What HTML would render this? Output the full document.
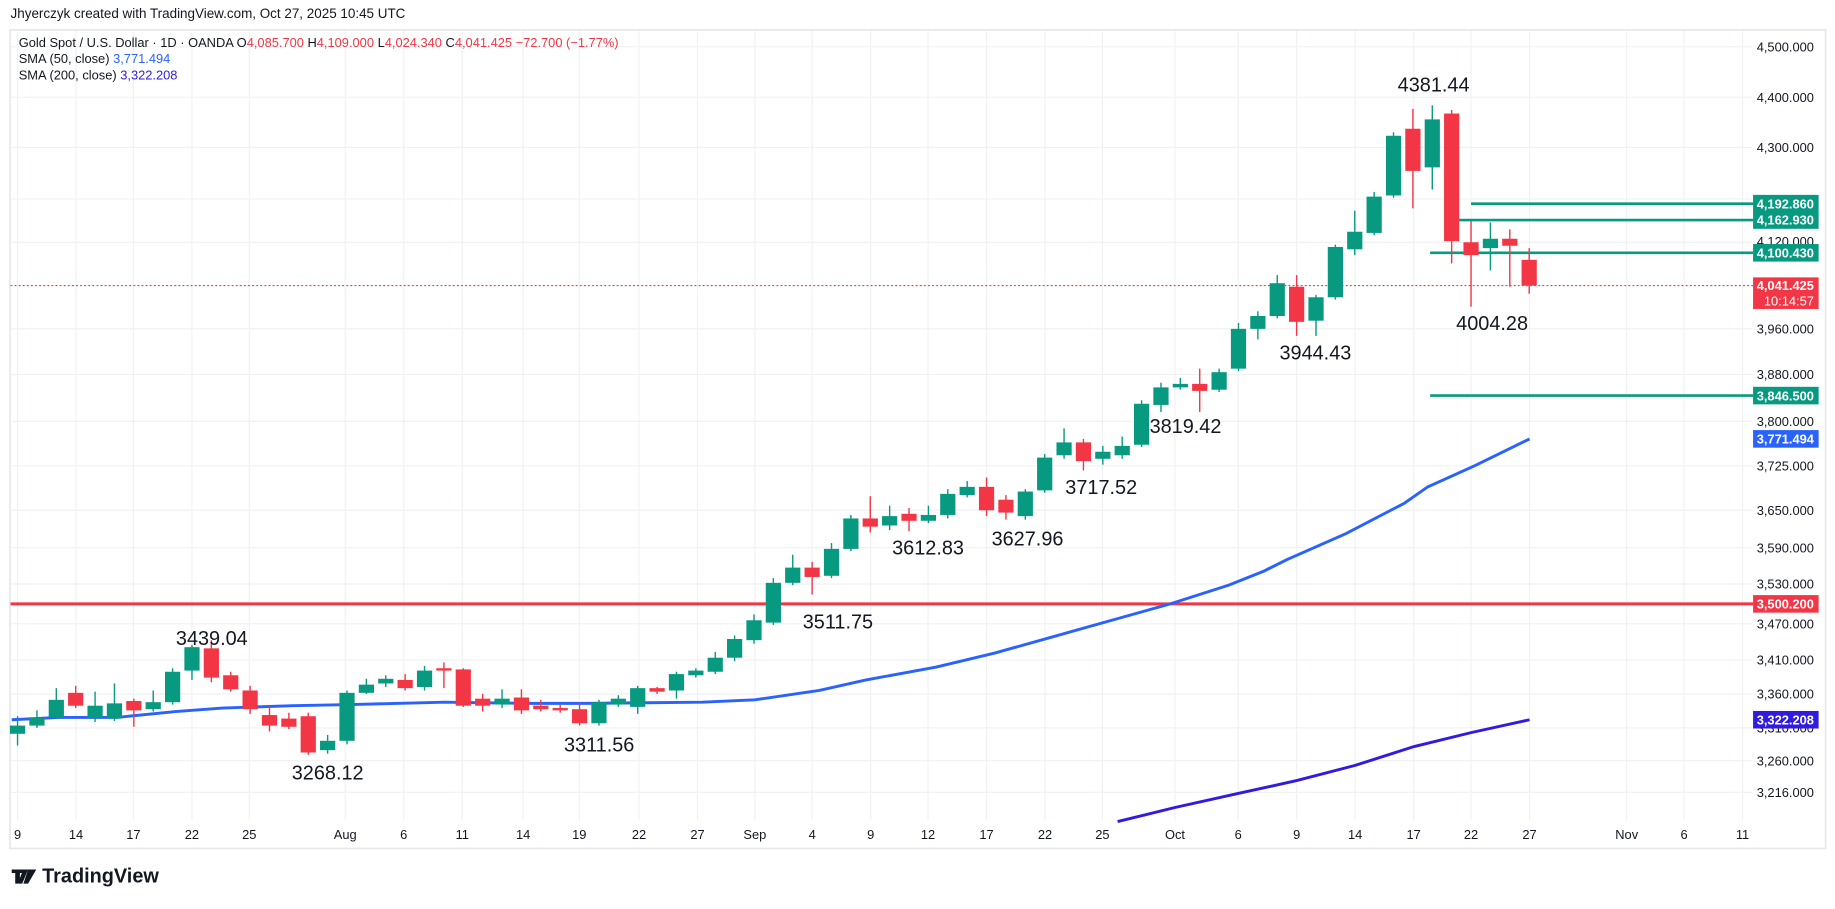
<!DOCTYPE html>
<html><head><meta charset="utf-8"><style>
html,body{margin:0;padding:0;background:#fff;}
svg{display:block;font-family:"Liberation Sans",sans-serif;}
</style></head><body>
<svg id="c" width="1835" height="909" viewBox="0 0 1568 776.7" xmlns="http://www.w3.org/2000/svg">
<rect width="1568" height="776.7" fill="#fff"/>
<text x="9" y="15.5" font-size="11.5" fill="#131722">Jhyerczyk created with TradingView.com, Oct 27, 2025 10:45 UTC</text>
<rect x="8.5" y="25.5" width="1551.5" height="699.5" fill="none" stroke="#e8e8ea" stroke-width="1.5"/>
<g id="grid" stroke="#f0f1f3" stroke-width="1"></g>
<g id="hl"></g>
<g id="cd"></g>
<g font-size="11" fill="#131722">
<text x="16" y="40">Gold Spot / U.S. Dollar · 1D · OANDA  O<tspan fill="#f23645">4,085.700</tspan>  H<tspan fill="#f23645">4,109.000</tspan>  L<tspan fill="#f23645">4,024.340</tspan>  C<tspan fill="#f23645">4,041.425</tspan>  <tspan fill="#f23645">−72.700 (−1.77%)</tspan></text>
<text x="16" y="54">SMA (50, close)  <tspan fill="#2962ff">3,771.494</tspan></text>
<text x="16" y="68">SMA (200, close)  <tspan fill="#311bdf">3,322.208</tspan></text>
</g>
<g font-size="11" fill="#131722" text-anchor="end">
<text x="1550" y="44">4,500.000</text><text x="1550" y="87">4,400.000</text><text x="1550" y="130">4,300.000</text>
<text x="1550" y="210">4,120.000</text><text x="1550" y="285">3,960.000</text><text x="1550" y="324">3,880.000</text>
<text x="1550" y="364">3,800.000</text><text x="1550" y="402">3,725.000</text><text x="1550" y="440">3,650.000</text>
<text x="1550" y="472">3,590.000</text><text x="1550" y="503">3,530.000</text><text x="1550" y="537">3,470.000</text>
<text x="1550" y="568">3,410.000</text><text x="1550" y="597">3,360.000</text><text x="1550" y="626">3,310.000</text>
<text x="1550" y="654">3,260.000</text><text x="1550" y="681">3,216.000</text>
</g>
<g font-size="11" fill="#131722" text-anchor="middle">
<text x="15" y="717">9</text><text x="65" y="717">14</text><text x="114" y="717">17</text><text x="164" y="717">22</text><text x="213" y="717">25</text><text x="295" y="717">Aug</text><text x="345" y="717">6</text><text x="395" y="717">11</text><text x="447" y="717">14</text><text x="495" y="717">19</text><text x="546" y="717">22</text><text x="596" y="717">27</text><text x="645" y="717">Sep</text><text x="694" y="717">4</text><text x="744" y="717">9</text><text x="793" y="717">12</text><text x="843" y="717">17</text><text x="893" y="717">22</text><text x="942" y="717">25</text><text x="1004" y="717">Oct</text><text x="1058" y="717">6</text><text x="1108" y="717">9</text><text x="1158" y="717">14</text><text x="1208" y="717">17</text><text x="1257" y="717">22</text><text x="1307" y="717">27</text><text x="1390" y="717">Nov</text><text x="1439" y="717">6</text><text x="1489" y="717">11</text>
</g>
<g id="boxes" font-size="11" fill="#fff" text-anchor="end" font-weight="bold"></g>
<g font-size="17" fill="#131722" text-anchor="middle">
<text x="1225" y="78">4381.44</text><text x="1275" y="282">4004.28</text><text x="1124" y="307">3944.43</text>
<text x="1013" y="370">3819.42</text><text x="941" y="422">3717.52</text><text x="793" y="474">3612.83</text>
<text x="878" y="466">3627.96</text><text x="716" y="537">3511.75</text><text x="181" y="551">3439.04</text>
<text x="280" y="666">3268.12</text><text x="512" y="642">3311.56</text>
</g>
<g transform="translate(10,741)">
<path d="M0 2h10v3h-3v9h-4v-9h-3z M10 2h4l-5 12h-4z M14 2h7l-7 12h-4z" fill="#131722"/>
<text x="26" y="13" font-size="17" font-weight="bold" fill="#131722">TradingView</text>
</g>
</svg>
<script>
var NS="http://www.w3.org/2000/svg";
function el(p,t,a){var e=document.createElementNS(NS,t);for(var k in a)e.setAttribute(k,a[k]);p.appendChild(e);return e;}
var g=document.getElementById('grid');
[40,83,126,170,207,244,281,320,360,398,436,468,499,533,564,593,622,650,677].forEach(function(y){el(g,'line',{x1:9,x2:1497,y1:y,y2:y});});
[15,65,114,164,213,295,345,395,447,495,546,596,645,694,744,793,843,893,942,1004,1058,1108,1158,1208,1257,1307,1390,1439,1489].forEach(function(x){el(g,'line',{x1:x,x2:x,y1:26,y2:701});});
var hl=document.getElementById('hl');
el(hl,'line',{x1:9,x2:1498,y1:244,y2:244,stroke:'#f23645','stroke-width':1,'stroke-dasharray':'1.5 2'});
el(hl,'line',{x1:9,x2:1498,y1:516,y2:516,stroke:'#f23645','stroke-width':2.5});
[[174,1257],[188,1240],[216,1222],[338,1222]].forEach(function(a){el(hl,'line',{x1:a[1],x2:1498,y1:a[0],y2:a[0],stroke:'#089981','stroke-width':2.2});});
el(hl,'polyline',{points:'10,615 50,613 100,613 150,608 190,605 250,603 300,602 380,600 450,601 500,601 600,600 645,598 700,590 740,581 800,570 850,558 900,544 950,530 1000,516 1050,500 1080,488 1100,478 1150,456 1200,430 1220,416 1260,398 1307,375',fill:'none',stroke:'#2962ff','stroke-width':2.5});
el(hl,'polyline',{points:'955,702 1004,690 1058,678 1108,667 1158,654 1208,638 1257,626 1307,615',fill:'none',stroke:'#311bdf','stroke-width':2.5});
var C=[[627,612,637,620],[620,607,622,613],[613,588,614,598],[592,586,605,603],[613,591,617,603],[614,584,616,601],[599,597,621,607],[606,590,608,600],[600,571,602,574],[573,551,581,553],[554,547,583,579],[577,574,591,589],[590,586,610,606],[611,603,625,620],[614,609,623,621],[612,609,645,643],[641,628,644,633],[633,590,636,592],[592,580,593,585],[584,577,587,580],[581,576,590,588],[587,569,590,573],[571,566,588,573],[572,571,604,603],[597,593,608,603],[602,589,605,597],[596,589,610,607],[603,598,608,606],[605,602,609,607],[606,600,620,618],[618,598,620,600],[602,594,604,597],[604,586,610,588],[588,587,593,591],[590,574,597,576],[577,571,579,573],[574,557,576,562],[562,543,565,546],[547,525,550,530],[532,494,534,498],[498,474,500,485],[485,480,508,493],[492,464,494,469],[469,440,471,443],[443,424,455,450],[449,432,453,441],[439,434,454,445],[445,432,447,440],[440,418,443,422],[423,411,425,416],[416,408,441,436],[427,423,444,438],[441,418,444,420],[419,388,421,391],[389,366,392,378],[378,375,402,394],[392,381,397,386],[389,373,392,381],[380,342,382,345],[346,327,352,331],[331,323,333,328],[328,315,352,334],[333,315,335,318],[315,276,317,281],[281,266,290,270],[270,235,272,242],[245,235,287,275],[274,252,287,254],[254,209,256,211],[213,180,218,198],[199,164,201,168],[167,113,169,116],[110,93,178,146],[143,90,162,102],[97,94,225,206],[207,189,262,218],[212,190,231,204],[204,196,245,210],[222,212,251,244]];
var cd=document.getElementById('cd');
C.forEach(function(c,i){var x=15+16.56*i;var up=c[3]<c[0];var col=up?'#089981':'#f23645';
el(cd,'line',{x1:x,x2:x,y1:c[1],y2:c[2],stroke:col,'stroke-width':1.2});
var t=Math.min(c[0],c[3]),h=Math.max(Math.abs(c[3]-c[0]),1.5);
el(cd,'rect',{x:x-6.5,y:t,width:13,height:h,fill:col});});
var b=document.getElementById('boxes');
[[174,'4,192.860','#089981'],[188,'4,162.930','#089981'],[216,'4,100.430','#089981'],[338,'3,846.500','#089981'],[375,'3,771.494','#2962ff'],[516,'3,500.200','#f23645'],[615,'3,322.208','#311bdf']].forEach(function(a){
el(b,'rect',{x:1498,y:a[0]-7.5,width:56,height:15,fill:a[2]});var t=el(b,'text',{x:1550,y:a[0]+4});t.textContent=a[1];});
el(b,'rect',{x:1498,y:237,width:56,height:27,fill:'#f23645'});
var t1=el(b,'text',{x:1550,y:248});t1.textContent='4,041.425';
var t2=el(b,'text',{x:1550,y:261,'font-weight':'normal'});t2.textContent='10:14:57';
</script>
</body></html>
